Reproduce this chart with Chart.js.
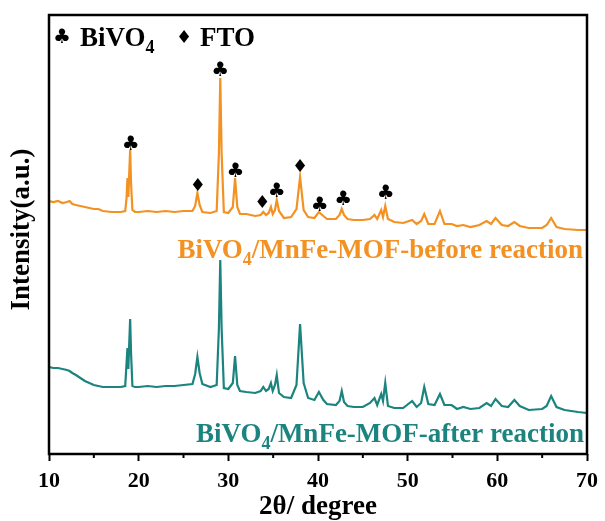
<!DOCTYPE html>
<html>
<head>
<meta charset="utf-8">
<script src="https://cdn.jsdelivr.net/npm/chart.js@4.4.0/dist/chart.umd.min.js"></script>
<style>
  html, body { margin: 0; padding: 0; background: #fff; }
</style>
</head>
<body>
<canvas id="xrd" width="605" height="521"></canvas>
<script>
// 2theta positions (degree) shared by both patterns
const angles = [10, 10.5, 11, 11.5, 12, 12.3, 12.6, 13, 13.5, 14, 14.5, 15, 15.5, 16, 17, 18, 18.5, 18.65, 18.75, 18.85, 18.95, 19.05, 19.15, 19.3, 19.6,
  20, 21, 22, 23, 24, 25, 26, 26.3, 26.55, 26.8, 27.1, 28, 28.7, 28.95, 29.1, 29.25, 29.5, 30, 30.5, 30.75, 31, 31.3, 32, 33, 33.6, 33.9, 34.2,
  34.5, 34.75, 34.95, 35.2, 35.4, 35.65, 36.2, 37, 37.6, 38.0, 38.4, 38.9, 39.6, 40.1, 40.6, 41, 42, 42.4, 42.65, 42.9, 43.3, 44, 45, 45.8,
  46.3, 46.6, 47.05, 47.25, 47.5, 47.8, 48.5, 49.5, 50.5, 51, 51.5, 51.85, 52.3, 53, 53.6, 54.1, 54.9, 55.5, 56.2, 57, 58, 58.8, 59.3, 59.8,
  60.5, 61.2, 61.9, 62.5, 63.5, 65, 65.5, 66.0, 66.6, 67.5, 69, 70];

// intensity (a.u.), BiVO4/MnFe-MOF before reaction (offset pattern)
const before = [252, 251, 252, 250, 251, 252, 249, 248, 247, 246, 245, 244, 244, 242, 241, 241, 242, 255, 275, 256, 280, 303, 270, 243, 241,
  241, 242, 241, 242, 241, 242, 242, 247, 260, 248, 241, 240, 242, 300, 375, 300, 241, 240, 246, 275, 246, 239, 239, 237, 238, 241, 238,
  240, 246, 239, 243, 253, 242, 235, 236, 244, 276, 243, 236, 235, 241, 237, 234, 234, 238, 244, 238, 234, 233, 233, 234,
  238, 234, 243, 236, 247, 234, 231, 230, 233, 229, 232, 239, 229, 229, 242, 229, 229, 227, 228, 226, 228, 232, 229, 235,
  228, 227, 231, 227, 225, 225, 228, 235, 226, 224, 223, 223];

// intensity (a.u.), BiVO4/MnFe-MOF after reaction
const after = [86, 85, 85, 84, 83, 82, 80, 78, 75, 72, 70, 68, 67, 66, 66, 66, 67, 90, 105, 84, 110, 134, 100, 67, 66,
  66, 67, 66, 67, 67, 68, 69, 79, 96, 80, 69, 66, 68, 125, 193, 125, 65, 64, 70, 97, 68, 62, 61, 60, 62, 66, 62,
  64, 70, 62, 68, 78, 60, 56, 55, 68, 129, 70, 55, 53, 61, 53, 49, 48, 52, 62, 51, 47, 46, 46, 50,
  55, 48, 59, 52, 70, 47, 45, 45, 52, 46, 50, 66, 49, 48, 59, 48, 48, 44, 46, 44, 45, 50, 47, 54,
  47, 46, 53, 47, 43, 44, 47, 57, 46, 43, 41, 40];

// peak markers (angle, height of symbol)
const bivoPeaks = [19.1, 29.1, 30.8, 35.4, 40.2, 42.8, 47.55];
const bivoMarkY = [308, 382, 281, 261, 247, 253, 259];
const ftoPeaks = [26.6, 33.8, 38.0];
const ftoMarkY = [267, 250, 286];

const orange = '#F39122';
const teal = '#1B847F';
const serif = '"Liberation Serif", "Times New Roman", serif';

function subText(ctx, parts, x, y, size, alignRight) {
  // parts: [text, isSub]
  let total = 0;
  parts.forEach(p => {
    ctx.font = 'bold ' + (p[1] ? Math.round(size * 0.65) : size) + 'px ' + serif;
    total += ctx.measureText(p[0]).width;
  });
  let cx = alignRight ? x - total : x;
  ctx.textAlign = 'left';
  ctx.textBaseline = 'alphabetic';
  parts.forEach(p => {
    ctx.font = 'bold ' + (p[1] ? Math.round(size * 0.65) : size) + 'px ' + serif;
    ctx.fillText(p[0], cx, p[1] ? y + size * 0.25 : y);
    cx += ctx.measureText(p[0]).width;
  });
}

const decor = {
  id: 'decor',
  afterDatasetsDraw(chart) {
    const ctx = chart.ctx;
    const xs = chart.scales.x, ys = chart.scales.y;
    const a = chart.chartArea;
    ctx.save();
    // peak symbols
    ctx.fillStyle = '#000';
    ctx.textAlign = 'center';
    ctx.textBaseline = 'middle';
    ctx.font = '20px "DejaVu Sans"';
    bivoPeaks.forEach((p, i) => ctx.fillText('\u2663', xs.getPixelForValue(p), ys.getPixelForValue(bivoMarkY[i])));
    ctx.font = '18px "DejaVu Sans"';
    ftoPeaks.forEach((p, i) => ctx.fillText('\u2666', xs.getPixelForValue(p), ys.getPixelForValue(ftoMarkY[i])));

    // legend
    ctx.font = '20px "DejaVu Sans"';
    ctx.fillText('\u2663', a.left + 13, a.top + 23);
    ctx.font = '18px "DejaVu Sans"';
    ctx.fillText('\u2666', a.left + 135, a.top + 23);
    subText(ctx, [['BiVO', false], ['4', true]], a.left + 31, a.top + 31, 27, false);
    subText(ctx, [['FTO', false]], a.left + 151, a.top + 31, 27, false);

    // series labels
    ctx.fillStyle = orange;
    subText(ctx, [['BiVO', false], ['4', true], ['/MnFe-MOF-before reaction', false]], a.right - 4, ys.getPixelForValue(195), 27, true);
    ctx.fillStyle = teal;
    subText(ctx, [['BiVO', false], ['4', true], ['/MnFe-MOF-after reaction', false]], a.right - 3, ys.getPixelForValue(11), 27, true);

    // y title
    ctx.fillStyle = '#000';
    ctx.translate(22, (a.top + a.bottom) / 2 - 5);
    ctx.rotate(-Math.PI / 2);
    ctx.font = 'bold 27px ' + serif;
    ctx.textAlign = 'center';
    ctx.textBaseline = 'middle';
    ctx.fillText('Intensity(a.u.)', 0, 0);
    ctx.restore();
  },
  afterDraw(chart) {
    const ctx = chart.ctx;
    const a = chart.chartArea;
    const xs = chart.scales.x;
    ctx.save();
    ctx.strokeStyle = '#000';
    ctx.lineWidth = 2.5;
    ctx.strokeRect(a.left, a.top, a.right - a.left, a.bottom - a.top);
    // minor ticks
    ctx.lineWidth = 2;
    for (let v = 15; v < 70; v += 10) {
      const px = xs.getPixelForValue(v);
      ctx.beginPath();
      ctx.moveTo(px, a.bottom);
      ctx.lineTo(px, a.bottom + 4);
      ctx.stroke();
    }
    ctx.restore();
  }
};

const ctx = document.getElementById('xrd').getContext('2d');
const xrdChart = new Chart(ctx, {
  type: 'line',
  data: {
    datasets: [{
      label: 'BiVO4/MnFe-MOF-before reaction',
      data: angles.map((a, i) => ({ x: a, y: before[i] })),
      borderColor: orange,
      borderWidth: 2.2,
      pointRadius: 0,
      tension: 0,
      fill: false
    }, {
      label: 'BiVO4/MnFe-MOF-after reaction',
      data: angles.map((a, i) => ({ x: a, y: after[i] })),
      borderColor: teal,
      borderWidth: 2.2,
      pointRadius: 0,
      tension: 0,
      fill: false
    }]
  },
  options: {
    responsive: false,
    animation: false,
    layout: { padding: { top: 15, right: 15, left: 0, bottom: 0 } },
    plugins: { legend: { display: false }, tooltip: { enabled: false } },
    scales: {
      x: {
        type: 'linear',
        min: 10,
        max: 70,
        afterFit: s => { s.height = 67; },
        border: { display: false },
        grid: { drawOnChartArea: false, tickLength: 7, tickWidth: 2, color: '#000' },
        ticks: {
          stepSize: 10,
          padding: 7,
          color: '#000',
          font: { family: serif, weight: 'bold', size: 22 }
        },
        title: {
          display: true,
          text: '2\u03b8/ degree',
          color: '#000',
          padding: { top: 0, bottom: -2 },
          font: { family: serif, weight: 'bold', size: 27 }
        }
      },
      y: {
        min: -1,
        max: 438,
        afterFit: s => { s.width = 49; },
        border: { display: false },
        grid: { display: false },
        ticks: { display: false }
      }
    }
  },
  plugins: [decor]
});
</script>
</body>
</html>
